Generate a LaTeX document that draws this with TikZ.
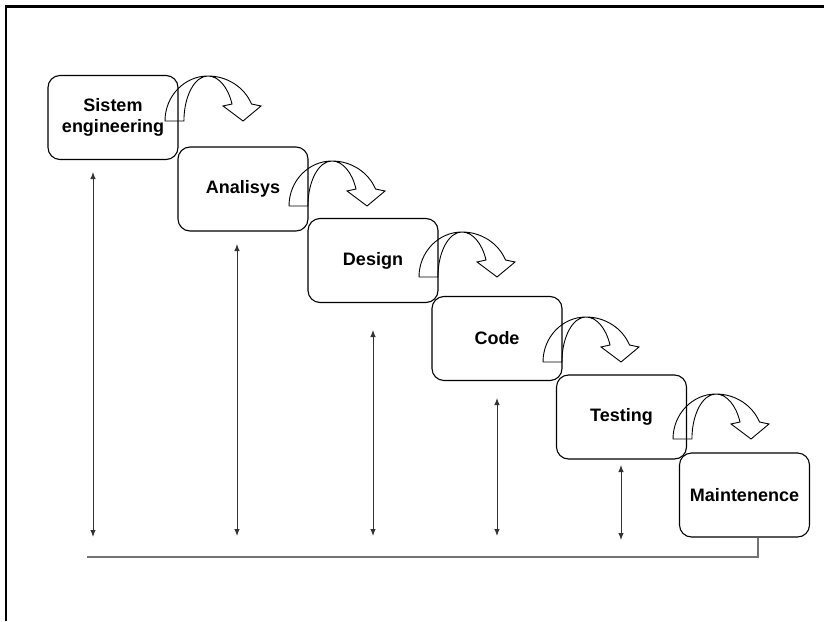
\documentclass[tikz,border=0pt]{standalone}
\usepackage{fontspec}
\setmainfont{Liberation Sans}
\usetikzlibrary{arrows.meta}
\begin{document}
\begin{tikzpicture}[x=1pt,y=-1pt,
  phase/.style={draw=black, line width=1.1pt, rounded corners=12pt,
    minimum width=130pt, minimum height=84pt, inner sep=0pt, align=center,
    font=\fontsize{18}{21}\selectfont\bfseries},
  feedback/.style={draw=black!80, line width=1pt,
    {Latex[length=7pt,width=5.5pt]}-{Latex[length=7pt,width=5.5pt]}},
  base/.style={draw=black!55, line width=1.2pt},
  turn/.pic={
    \draw[line width=0.9pt, line join=miter]
      (0,0) arc[start angle=180, end angle=270, x radius=43, y radius=45]
            arc[start angle=270, end angle=337.8, x radius=47, y radius=45]
      -- (96,-15) -- (78,0) -- (58,-15) -- (67,-17)
            arc[start angle=337.8, end angle=270, x radius=26, y radius=45]
            arc[start angle=270, end angle=180, x radius=24, y radius=45]
      -- cycle;
  }]
\useasboundingbox (0,0) rectangle (824,621);

% page frame
\draw[line width=2.6pt, line join=miter] (6,621) -- (6,6.5) -- (824,6.5);

% phases of the waterfall
\node[phase] (se) at (113,117.5) {Sistem\\engineering};
\node[phase] (an) at (243,189)   {Analisys};
\node[phase] (de) at (373,260.5) {Design};
\node[phase] (co) at (497,338.5) {Code};
\node[phase] (te) at (621.5,417) {Testing};
\node[phase] (ma) at (744.5,495) {Maintenence};

% curved arrows passing from one phase to the next
\pic at (165,121) {turn};
\pic at (289,206) {turn};
\pic at (419,277) {turn};
\pic at (543,362) {turn};
\pic at (673,439) {turn};

% feedback arrows between each phase and the maintenance line
\coordinate (f1t) at (93,172);   \coordinate (f1b) at (93,537);
\coordinate (f2t) at (237,244);  \coordinate (f2b) at (237,536);
\coordinate (f3t) at (373,330);  \coordinate (f3b) at (373,536);
\coordinate (f4t) at (497,398);  \coordinate (f4b) at (497,536);
\coordinate (f5t) at (621,465);  \coordinate (f5b) at (621,540);
\foreach \i in {1,...,5} \draw[feedback] (f\i t) -- (f\i b);

% maintenance return line
\coordinate (bl) at (87,557);
\coordinate (br) at (758,557);
\draw[base] (bl) -- (br) -- (br |- ma.south);
\end{tikzpicture}
\end{document}
